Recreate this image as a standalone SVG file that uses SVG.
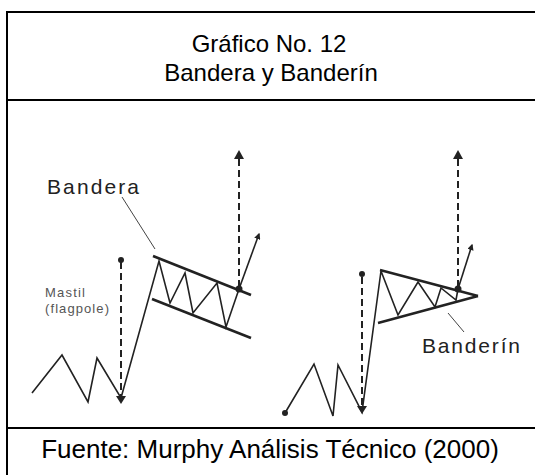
<svg xmlns="http://www.w3.org/2000/svg" width="535" height="475" viewBox="0 0 535 475">
<defs>
<style>
.frame{fill:none;stroke:#000;stroke-width:2}
.price{fill:none;stroke:#222;stroke-width:1.6;stroke-linejoin:miter}
.bound{fill:none;stroke:#222;stroke-width:2.6}
.dash{fill:none;stroke:#222;stroke-width:2;stroke-dasharray:7,4}
.leader{fill:none;stroke:#444;stroke-width:1}
.dot{fill:#222}
.head{fill:#222}
.title{font-family:"Liberation Sans",Arial,sans-serif;font-size:24px;fill:#000;text-anchor:middle}
.foot{font-family:"Liberation Sans",Arial,sans-serif;font-size:26px;fill:#000;text-anchor:middle}
.lbl{font-family:"Liberation Sans",Arial,sans-serif;font-size:21px;fill:#222}
.small{font-family:"Liberation Sans",Arial,sans-serif;font-size:13px;fill:#555}
</style>
<marker id="ah" viewBox="0 0 10 10" refX="8" refY="5" markerWidth="4" markerHeight="4" orient="auto"><path d="M0,0 L10,5 L0,10 z" class="head"/></marker>
</defs>
<rect width="535" height="475" fill="#fff"/>
<g id="frame">
<path class="frame" d="M7,480 V12 H540"/>
<line class="frame" x1="7" y1="100" x2="540" y2="100"/>
<line class="frame" x1="7" y1="428" x2="540" y2="428"/>
</g>
<g id="title">
<text class="title" x="269" y="52">Gráfico No. 12</text>
<text class="title" x="271" y="81">Bandera y Banderín</text>
</g>
<g id="footer">
<text class="foot" x="270" y="458">Fuente: Murphy Análisis Técnico (2000)</text>
</g>
<g id="connectors">
<polyline class="price" points="32,393 62,355 88,402 97,358 121,398 159,261 170,303 185,273 193,313 217,283 226,327 239,289"/>
<line class="price" x1="239" y1="289" x2="259" y2="234" marker-end="url(#ah)"/>
<line class="bound" x1="153" y1="256" x2="251" y2="295"/>
<line class="bound" x1="152" y1="299" x2="251" y2="338"/>
<line class="dash" x1="121" y1="262" x2="121" y2="396"/>
<line class="dash" x1="239" y1="287" x2="239" y2="158"/>
<line class="leader" x1="122" y1="197" x2="155" y2="249"/>
<polyline class="price" points="285,413 314,364 333,416 338,365 362,412 381,271 398,315 418,282 435,307 441,288 456,300 458,289"/>
<line class="price" x1="458" y1="289" x2="472" y2="245" marker-end="url(#ah)"/>
<line class="bound" x1="380" y1="270" x2="478" y2="296"/>
<line class="bound" x1="378" y1="323" x2="478" y2="296"/>
<line class="dash" x1="362" y1="277" x2="362" y2="410"/>
<line class="dash" x1="458" y1="287" x2="458" y2="158"/>
<line class="leader" x1="448" y1="313" x2="464" y2="332"/>
</g>
<g id="markers">
<circle class="dot" cx="121" cy="260" r="3"/>
<circle class="dot" cx="239" cy="289" r="3.5"/>
<circle class="dot" cx="362" cy="274" r="3"/>
<circle class="dot" cx="458" cy="289" r="3.5"/>
<circle class="dot" cx="285" cy="413" r="3"/>
<path class="head" d="M116,396 L126,396 L121,404 z"/>
<path class="head" d="M357,406 L367,406 L362,414 z"/>
<path class="head" d="M234,159 L244,159 L239,150 z"/>
<path class="head" d="M453,159 L463,159 L458,150 z"/>
</g>
<g id="label-bandera"><text class="lbl" x="47" y="194" textLength="92" lengthAdjust="spacing">Bandera</text></g>
<g id="label-mastil">
<text class="small" x="45" y="297" textLength="40" lengthAdjust="spacing">Mastil</text>
<text class="small" x="45" y="313" textLength="64" lengthAdjust="spacing">(flagpole)</text>
</g>
<g id="label-banderin"><text class="lbl" x="422" y="353" textLength="98" lengthAdjust="spacing">Banderín</text></g>
</svg>
